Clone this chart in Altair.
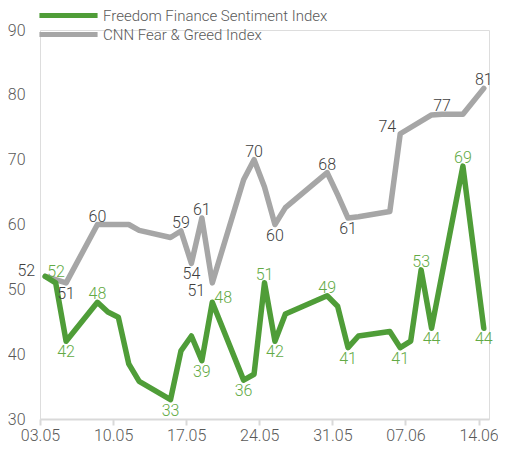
import altair as alt
import pandas as pd

FONT = "Roboto"
FW = 300

SERIES_FF = "Freedom Finance Sentiment Index"
SERIES_CNN = "CNN Fear & Greed Index"

FF_DATES = ["2021-05-03", "2021-05-04", "2021-05-05", "2021-05-08", "2021-05-09",
            "2021-05-10", "2021-05-11", "2021-05-12", "2021-05-15", "2021-05-16",
            "2021-05-17", "2021-05-18", "2021-05-19", "2021-05-22", "2021-05-23",
            "2021-05-24", "2021-05-25", "2021-05-26", "2021-05-30", "2021-05-31",
            "2021-06-01", "2021-06-02", "2021-06-05", "2021-06-06", "2021-06-07",
            "2021-06-08", "2021-06-09", "2021-06-12", "2021-06-14"]
FF_VALUES = [52, 51, 42, 48, 46.5, 45.7, 38.5, 35.8, 33, 40.5,
             42.8, 39, 48, 36, 36.9, 51, 42, 46.2, 49, 47.4,
             41, 42.8, 43.5, 41, 42, 53, 44, 69, 44]
FF_LABEL_POS = ["right", "", "below", "above", "", "", "", "", "below", "",
                "", "below", "right", "below", "", "above", "below", "", "above", "",
                "below", "", "", "below", "", "above", "below", "above", "below"]

CNN_DATES = ["2021-05-03", "2021-05-05", "2021-05-08", "2021-05-11", "2021-05-12",
             "2021-05-15", "2021-05-16", "2021-05-17", "2021-05-18", "2021-05-19",
             "2021-05-22", "2021-05-23", "2021-05-24", "2021-05-25", "2021-05-26",
             "2021-05-30", "2021-05-31", "2021-06-01", "2021-06-02", "2021-06-05",
             "2021-06-06", "2021-06-09", "2021-06-10", "2021-06-12", "2021-06-14"]
CNN_VALUES = [52, 51, 60, 60, 59.1, 58, 59, 54, 61, 51,
              66.9, 70, 65.8, 60, 62.6, 68, 64.6, 61, 61.2, 62,
              74, 76.9, 77, 77, 81]
CNN_LABEL_POS = ["left", "below", "above", "", "", "", "above", "below", "above", "belowleft",
                 "", "above", "", "below", "", "above", "", "below", "", "",
                 "aboveleft", "", "above", "", "above"]

X_TICKS = ["2021-05-03", "2021-05-10", "2021-05-17", "2021-05-24", "2021-05-31",
           "2021-06-07", "2021-06-14"]
Y_TICKS = [30, 40, 50, 60, 70, 80, 90]

GREEN = "#4F9D38"
GREEN_TEXT = "#62AA45"
GRAY = "#A6A6A6"
GRAY_TEXT = "#404040"
AXIS_TEXT = "#595959"
AXIS_LINE = "#D9D9D9"


def frame(series, dates, values, pos):
    return pd.DataFrame({
        "series": series,
        "date": [d + "T12:00:00" for d in dates],
        "value": values,
        "pos": pos,
    })


ff = frame(SERIES_FF, FF_DATES, FF_VALUES, FF_LABEL_POS)
cnn = frame(SERIES_CNN, CNN_DATES, CNN_VALUES, CNN_LABEL_POS)
lines_df = pd.concat([cnn, ff], ignore_index=True)


def dt(s):
    y, m, d = (int(p) for p in s.split("-"))
    return alt.DateTime(year=y, month=m, date=d)


x_enc = alt.X(
    "date:T",
    scale=alt.Scale(domain=[dt("2021-05-03"), dt("2021-06-15")]),
    axis=alt.Axis(
        values=[dt(s) for s in X_TICKS], format="%d.%m", title=None,
        labelFont=FONT, labelFontWeight=FW, labelFontSize=16, labelColor=AXIS_TEXT,
        domainColor=AXIS_LINE, domainWidth=2, tickColor=AXIS_LINE, tickWidth=2,
        tickSize=6, labelPadding=2, grid=False, labelFlush=False,
    ),
)
y_enc = alt.Y(
    "value:Q",
    scale=alt.Scale(domain=[30, 90], nice=False, zero=False),
    axis=alt.Axis(
        values=Y_TICKS, title=None, labelFont=FONT, labelFontWeight=FW, labelFontSize=16,
        labelColor=AXIS_TEXT, domain=False, ticks=False, grid=False,
        labelPadding=15,
    ),
)

lines = alt.Chart(lines_df).mark_line(strokeWidth=5.5, strokeCap="round", strokeJoin="round").encode(
    x=x_enc,
    y=y_enc,
    color=alt.Color(
        "series:N",
        scale=alt.Scale(domain=[SERIES_FF, SERIES_CNN], range=[GREEN, GRAY]),
        legend=alt.Legend(
            title=None, orient="none", legendX=20, legendY=-23, padding=0,
            symbolType="M-5.1,0H5.1", symbolSize=130, symbolStrokeWidth=5,
            labelFont=FONT, labelFontWeight=FW, labelFontSize=15, labelColor=AXIS_TEXT,
            labelOffset=26, rowPadding=-3, labelLimit=400,
        ),
    ),
    detail="series:N",
)

PLACEMENT = {
    "above": dict(align="center", baseline="middle", dx=0, dy=-8),
    "below": dict(align="center", baseline="middle", dx=0, dy=11),
    "left": dict(align="right", baseline="middle", dx=-10, dy=-5),
    "right": dict(align="left", baseline="middle", dx=2, dy=-4),
    "aboveleft": dict(align="right", baseline="middle", dx=-4, dy=-7),
    "belowleft": dict(align="center", baseline="middle", dx=-16, dy=8),
}

layers = []
for df, color in ((cnn, GRAY_TEXT), (ff, GREEN_TEXT)):
    for key, style in PLACEMENT.items():
        sub = df[df["pos"] == key]
        if sub.empty:
            continue
        layers.append(
            alt.Chart(sub).mark_text(font=FONT, fontWeight=FW, fontSize=16, color=color, **style).encode(
                x=alt.X("date:T"),
                y=alt.Y("value:Q"),
                text=alt.Text("value:Q", format=".0f"),
            )
        )

gray_line = lines.transform_filter(alt.datum.series == SERIES_CNN)
green_line = lines.transform_filter(alt.datum.series == SERIES_FF)

chart = alt.layer(gray_line, green_line, *layers).properties(
    width=449, height=389,
    autosize=alt.AutoSizeParams(type="none"),
    padding={"left": 32, "top": 22, "right": 9, "bottom": 24},
).configure_view(stroke=None).configure(background="white")

chart.save("out.html", embed_options={"renderer": "svg", "actions": False})
